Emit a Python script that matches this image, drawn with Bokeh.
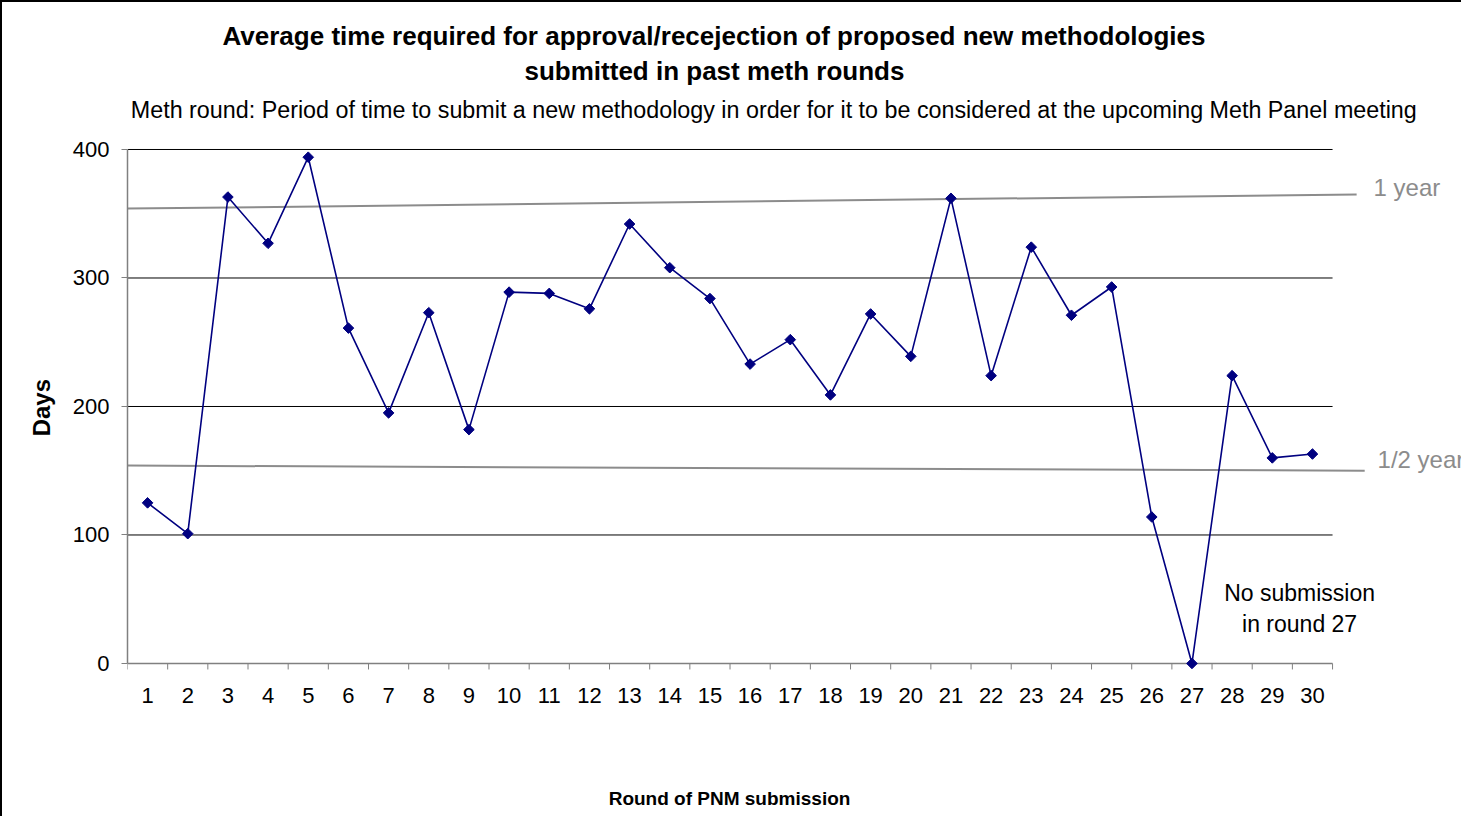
from bokeh.plotting import figure
from bokeh.models import Range1d, FixedTicker, Title, LinearAxis
from bokeh.core.properties import value
from bokeh.embed import file_html
from bokeh.resources import INLINE

# ---- data ----
rounds = list(range(1, 31))
days = [125, 101, 363, 327, 394, 261, 195, 273, 182, 289,
        288, 276, 342, 308, 284, 233, 252, 209, 272, 239,
        362, 224, 324, 271, 293, 114, 0, 224, 160, 163]
y_ticks = [0, 100, 200, 300, 400]
one_year_x = [0.5, 31.1]
one_year_y = [354, 365]
half_year_x = [0.5, 31.3]
half_year_y = [154, 150]

title_1 = "Average time required for approval/recejection of proposed new methodologies"
title_2 = "submitted in past meth rounds"
subtitle = ("Meth round: Period of time to submit a new methodology in order for it "
            "to be considered at the upcoming Meth Panel meeting")
x_label = "Round of PNM submission"
y_label = "Days"

FONT = "Liberation Sans"
NAVY = "#000080"
GREY_TXT = "#8c8c8c"
AXIS_GREY = "#808080"
NBSP = "\u00a0"

p = figure(width=1461, height=816, output_backend="svg", toolbar_location=None,
           x_range=Range1d(0.5, 33.76), y_range=Range1d(-7.8, 447.47),
           x_axis_type=None, y_axis_type=None,
           min_border_left=125, min_border_right=0,
           min_border_top=86, min_border_bottom=145,
           background_fill_color="white", border_fill_color="white",
           outline_line_color=None)
p.styles = {"border-left": "2px solid black", "border-top": "2px solid black"}

# titles (added innermost first)
for txt, off, sd in [(title_2, 397, 6), (title_1, 95, 0)]:
    p.add_layout(Title(text=txt, align="left", text_font=FONT, text_font_size="26px",
                       text_font_style="bold", text_color="black", offset=off,
                       standoff=sd), "above")

# x axis: labels only (line and tick marks drawn at y = 0 below)
lo, hi = rounds[0] - 0.5, rounds[-1] + 0.5
xaxis = LinearAxis(ticker=FixedTicker(ticks=rounds), bounds=(lo, hi),
                   axis_label=x_label + NBSP * 25)
xaxis.axis_line_color = None
xaxis.major_tick_line_color = None
xaxis.minor_tick_line_color = None
xaxis.major_tick_out = 0
xaxis.major_tick_in = 0
xaxis.major_label_standoff = 14
xaxis.major_label_text_font = FONT
xaxis.major_label_text_font_size = "22px"
xaxis.major_label_text_color = "black"
xaxis.axis_label_text_font = FONT
xaxis.axis_label_text_font_size = "19px"
xaxis.axis_label_text_font_style = "bold"
xaxis.axis_label_text_color = "black"
xaxis.axis_label_standoff = 82
p.add_layout(xaxis, "below")

yaxis = LinearAxis(ticker=FixedTicker(ticks=y_ticks), bounds=(y_ticks[0], y_ticks[-1]),
                   axis_label=y_label + NBSP * 8)
yaxis.major_tick_out = 6
yaxis.major_tick_in = 0
yaxis.minor_tick_line_color = None
yaxis.major_tick_line_color = AXIS_GREY
yaxis.axis_line_color = AXIS_GREY
yaxis.axis_line_width = 1.5
yaxis.major_label_standoff = 12
yaxis.major_label_text_font = FONT
yaxis.major_label_text_font_size = "22px"
yaxis.major_label_text_color = "black"
yaxis.axis_label_text_font = FONT
yaxis.axis_label_text_font_size = "24px"
yaxis.axis_label_text_font_style = "bold"
yaxis.axis_label_text_color = "black"
yaxis.axis_label_standoff = 15
p.add_layout(yaxis, "left")

# subtitle line
p.text(x=[16.59], y=[430.35], text=[subtitle], text_font=value(FONT),
       text_font_size="23.3px", text_color="black",
       text_align="center", text_baseline="middle")

# horizontal gridlines limited to the category span
p.segment(x0=lo, x1=hi, y0=y_ticks[1:], y1=y_ticks[1:],
          line_color="black", line_width=1)

# category axis line at 0 with boundary tick marks
boundaries = [r - 0.5 for r in rounds] + [hi]
tick_len = 6 / 1.285  # 6 px in data units
p.segment(x0=lo, x1=hi, y0=y_ticks[0], y1=y_ticks[0], line_color=AXIS_GREY, line_width=1.5)
p.segment(x0=boundaries, x1=boundaries, y0=y_ticks[0], y1=y_ticks[0] - tick_len,
          line_color=AXIS_GREY, line_width=1)

# reference lines
p.line(one_year_x, one_year_y, line_color="#8c8c8c", line_width=2)
p.line(half_year_x, half_year_y, line_color="#8c8c8c", line_width=2)
p.text(x=[31.52, 31.62], y=[370.4, 158.8], text=["1 year", "1/2 year"],
       text_font=value(FONT), text_font_size="24px", text_color=GREY_TXT,
       text_align="left", text_baseline="middle")

# data series
p.line(rounds, days, line_color=NAVY, line_width=1.6)
p.scatter(rounds, days, marker="square", angle=0.785398, size=7.5,
          fill_color=NAVY, line_color=NAVY)

# annotation
p.text(x=[29.68, 29.68], y=[54.5, 30.4], text=["No submission", "in round 27"],
       text_font=value(FONT), text_font_size="23px", text_color="black",
       text_align="center", text_baseline="middle")

open("out.html", "w").write(file_html(p, INLINE))
